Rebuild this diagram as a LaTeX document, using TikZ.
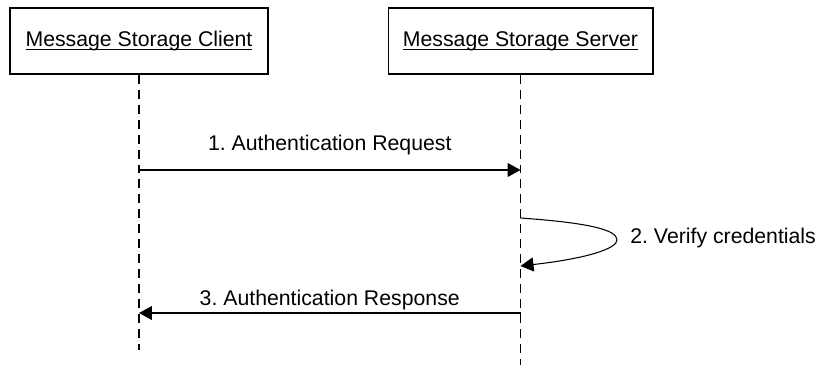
\documentclass[tikz,border=0pt]{standalone}
\usepackage{fontspec}
\setmainfont{Liberation Sans}
\usetikzlibrary{arrows.meta,positioning,calc}
\newcommand{\lifeul}[1]{\setbox0\hbox{#1}\rlap{\rule[-1.9pt]{\wd0}{0.55pt}}\box0}
\frenchspacing
\begin{document}
\begin{tikzpicture}[x=0.02cm,y=-0.02cm,font=\fontsize{12.1}{14}\selectfont,
  box/.style={draw,line width=0.6pt,minimum height=1.32cm,inner sep=0pt},
  life/.style={line width=0.6pt,dash pattern=on 0.18cm off 0.12cm},
  msg/.style={-{Triangle[length=0.26cm,width=0.28cm]},line width=0.6pt},
  lbl/.style={inner sep=0pt,anchor=base}]
\useasboundingbox (0,0) rectangle (818,365);
\node[box,minimum width=5.16cm] (client) at (139,41) {\lifeul{Message Storage Client}};
\node[box,minimum width=5.3cm] (server) at (520.5,41) {\lifeul{Message Storage Server}};
% lifelines
\coordinate (cEnd) at (client.south |- 0,350);
\coordinate (sEnd) at (server.south |- 0,365);
\draw[life] (client.south) -- (cEnd);
\draw[life] (server.south) -- (sEnd);
% message points
\coordinate (c1) at (client.south |- 0,170);
\coordinate (s1) at (server.south |- 0,170);
\coordinate (s2a) at (server.south |- 0,218);
\coordinate (s2b) at (server.south |- 0,266);
\coordinate (s3) at (server.south |- 0,313);
\coordinate (c3) at (client.south |- 0,313);
\draw[msg] (c1) -- node[lbl,yshift=0.4cm] (m1) {1. Authentication Request} (s1);
\draw[msg] (s2a) .. controls ($(s2a)+(70,5)$) and (617,230) .. (617,240)
  .. controls (617,248) and ($(s2b)+(70,-8)$) .. (s2b);
\node[lbl,anchor=base west] (m2) at (630,243) {2. Verify credentials};
\draw[msg] (s3) -- node[lbl,yshift=0.16cm] (m3) {3. Authentication Response} (c3);
\end{tikzpicture}
\end{document}
